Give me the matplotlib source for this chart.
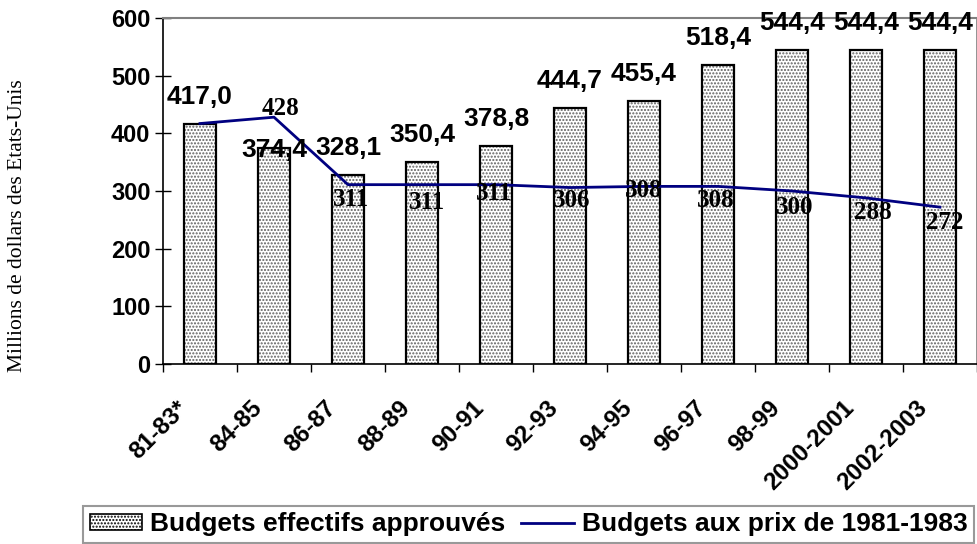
import matplotlib
matplotlib.use("Agg")
import matplotlib.pyplot as plt
import matplotlib.transforms as mtransforms
from matplotlib.patches import Patch
from matplotlib.lines import Line2D
import numpy as np

categories = ["81-83*", "84-85", "86-87", "88-89", "90-91", "92-93", "94-95",
              "96-97", "98-99", "2000-2001", "2002-2003"]
budgets = [417.0, 374.4, 328.1, 350.4, 378.8, 444.7, 455.4, 518.4, 544.4, 544.4, 544.4]
real_budgets = [417, 428, 311, 311, 311, 306, 308, 308, 300, 288, 272]
real_labels = [None, "428", "311", "311", "311", "306", "308", "308", "300", "288", "272"]
yticks = [0, 100, 200, 300, 400, 500, 600]

# label offsets in pixels (styling)
bar_label_dy = [27, -2, 27, 27, 27, 27, 27, 27, 27, 27, 27]
line_label_off = [(0, 0), (7, 9), (3, -15), (5, -18), (-2, -9), (2, -13), (0, -4),
                  (-2, -14), (3, -17), (7, -15), (5, -15)]

SANS = ["Liberation Sans", "DejaVu Sans"]
SERIF = ["Liberation Serif", "DejaVu Serif"]

fig = plt.figure(figsize=(9.78, 5.44), dpi=100)
ax = fig.add_axes([163 / 978, (544 - 364) / 544, (977 - 163) / 978, (364 - 18) / 544])

x = np.arange(len(categories))
width = 0.42
ax.bar(x, budgets, width, color="white", hatch=".....", edgecolor="#606060", linewidth=0, zorder=2)
ax.bar(x, budgets, width, fill=False, edgecolor="black", linewidth=1.6, zorder=3)

ax.plot(x, real_budgets, color="#000080", linewidth=2, zorder=4)

for i, v in enumerate(budgets):
    ax.annotate(f"{v:.1f}".replace(".", ","), (x[i], v), xytext=(0, bar_label_dy[i]),
                textcoords="offset pixels", ha="center", va="center",
                fontsize=19, fontweight="bold", family=SANS, zorder=6, annotation_clip=False)

for i, (v, lab) in enumerate(zip(real_budgets, real_labels)):
    if lab is None:
        continue
    dx, dy = line_label_off[i]
    ax.annotate(lab, (x[i], v), xytext=(dx, dy), textcoords="offset pixels",
                ha="center", va="center", fontsize=18, fontweight="bold", family=SERIF, zorder=6)

ax.set_xlim(-0.5, len(categories) - 0.5)
ax.set_ylim(0, 600)
ax.set_yticks(yticks)
ax.set_yticklabels([str(t) for t in yticks], fontsize=17, fontweight="bold", family=SANS)
ax.tick_params(axis="y", direction="inout", length=12, width=1, pad=3)

ax.set_xticks(x)
ax.set_xticklabels(categories, rotation=45, ha="right", va="top", rotation_mode="anchor",
                   fontsize=17.5, fontweight="bold", family=SANS)
ax.tick_params(axis="x", which="major", length=0, pad=16)
ax.set_xticks(np.arange(len(categories) + 1) - 0.5, minor=True)
ax.tick_params(axis="x", which="minor", direction="out", length=6, width=1)
offset = mtransforms.ScaledTranslation(-24 / 100, -10 / 100, fig.dpi_scale_trans)
for lab in ax.get_xticklabels():
    lab.set_transform(lab.get_transform() + offset)

ax.spines["left"].set_color("black")
ax.spines["bottom"].set_color("black")
ax.spines["left"].set_linewidth(1.2)
ax.spines["bottom"].set_linewidth(1.2)
ax.spines["top"].set_color("#808080")
ax.spines["right"].set_color("#808080")
ax.spines["top"].set_linewidth(1.5)
ax.spines["right"].set_linewidth(1.2)

fig.text(18 / 978, 1 - 226 / 544, "Millions de dollars des Etats-Unis", rotation=90,
         ha="center", va="center", fontsize=15.5, family=SERIF)

handles = [Patch(facecolor="white", edgecolor="black", hatch=".....", linewidth=1.2),
           Line2D([0], [0], color="#000080", linewidth=2)]
leg = fig.legend(handles, ["Budgets effectifs approuvés", "Budgets aux prix de 1981-1983"],
                 loc="lower left", bbox_to_anchor=(83 / 978, 1 / 544), ncol=2,
                 frameon=True, fancybox=False, prop={"family": SANS, "weight": "bold", "size": 19},
                 handlelength=2.0, handleheight=0.55, handletextpad=0.3, columnspacing=0.6,
                 borderpad=0.25, borderaxespad=0)
leg.get_frame().set_edgecolor("#808080")
leg.get_frame().set_linewidth(1.5)

fig.savefig("out.png", dpi=100)
